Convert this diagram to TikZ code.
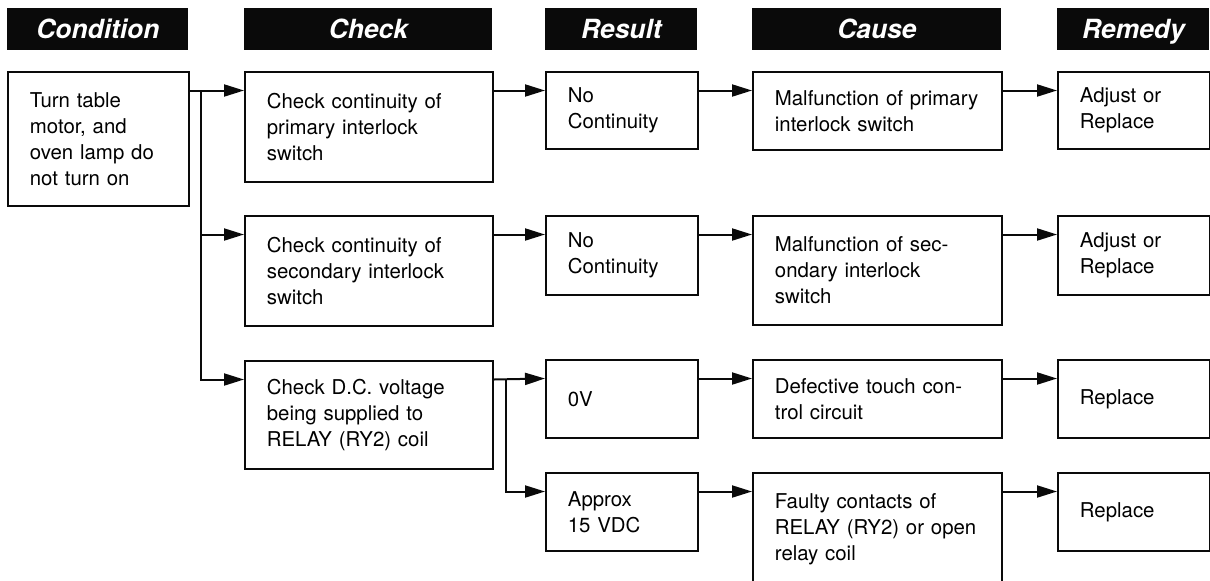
\documentclass[tikz,border=0pt]{standalone}
\usepackage{fontspec}
\setmainfont{TeX Gyre Heros}
\usetikzlibrary{arrows.meta}
\definecolor{inkblack}{RGB}{10,10,10}

\begin{document}
\begin{tikzpicture}[x=0.5pt, y=-0.5pt,
  head/.style={fill=inkblack, text=white, anchor=north west, inner sep=0pt, minimum height=21pt, text height=9.5pt, text depth=0pt, font=\fontsize{13.2}{15}\selectfont\bfseries\itshape},
  box/.style={draw=inkblack, line width=0.9pt, anchor=north west, align=left, inner xsep=11pt, inner ysep=0pt, font=\fontsize{10.2}{13}\selectfont},
  condbox/.style={box, text width=68.5pt},
  chkbox/.style={box, text width=102pt},
  resbox/.style={box, text width=54pt},
  caubox/.style={box, text width=102.5pt},
  rembox/.style={box, text width=54pt},
  conn/.style={-{Triangle[length=10pt,width=6pt]}, line width=1pt, inkblack}]
\useasboundingbox (0,0) rectangle (1210,580);
\foreach \name/\x/\w in {Condition/7/90.5, Check/244/124, Result/545/76, Cause/752/124.5, Remedy/1057/76}
  \node[head, minimum width=\w pt] (h\name) at (\x,8) {\name};
\node[condbox, minimum height=67pt] (cond) at (7,71) {Turn table\\motor, and\\oven lamp do\\not turn on};
\node[chkbox, minimum height=55pt] (chk1) at (244,71) {Check continuity of\\primary interlock\\switch};
\node[chkbox, minimum height=55pt] (chk2) at (244,215) {Check continuity of\\secondary interlock\\switch};
\node[chkbox, minimum height=54pt] (chk3) at (244,360) {Check D.C. voltage\\being supplied to\\RELAY (RY2) coil};
\node[resbox, minimum height=38.5pt] (res1) at (545,71) {No\\Continuity};
\node[resbox, minimum height=39.5pt] (res2) at (545,215) {No\\Continuity};
\node[resbox, minimum height=39pt] (res3) at (545,359) {0V};
\node[resbox, minimum height=39pt] (res4) at (545,472) {Approx\\15 VDC};
\node[caubox, minimum height=39pt] (cau1) at (752,71) {Malfunction of primary\\interlock switch};
\node[caubox, minimum height=54.5pt] (cau2) at (752,215) {Malfunction of sec-\\ondary interlock\\switch};
\node[caubox, minimum height=39pt] (cau3) at (752,359) {Defective touch con-\\trol circuit};
\node[caubox, minimum height=56pt] (cau4) at (752,472) {Faulty contacts of\\RELAY (RY2) or open\\relay coil};
\node[rembox, minimum height=38.5pt] (rem1) at (1057,71) {Adjust or\\Replace};
\node[rembox, minimum height=39.5pt] (rem2) at (1057,215) {Adjust or\\Replace};
\node[rembox, minimum height=39pt] (rem3) at (1057,359) {Replace};
\node[rembox, minimum height=39pt] (rem4) at (1057,472) {Replace};
\coordinate (jcond) at ([xshift=5.75pt,yshift=-9.75pt]cond.north east);
\coordinate (jchk) at ([xshift=6pt,yshift=-9.75pt]chk3.north east);
\draw[conn] ([yshift=-9.75pt]cond.north east) -- ([yshift=-9.75pt]chk1.north west);
\draw[conn] (jcond) |- ([yshift=-9.75pt]chk2.north west);
\draw[conn] (jcond) |- ([yshift=-9.75pt]chk3.north west);
\draw[conn] ([yshift=-9.75pt]chk3.north east) -- ([yshift=-9.75pt]res3.north west);
\draw[conn] (jchk) |- ([yshift=-9.75pt]res4.north west);
\foreach \i in {1,2}
  \draw[conn] ([yshift=-9.75pt]chk\i.north east) -- ([yshift=-9.75pt]res\i.north west);
\foreach \i in {1,...,4}{
  \draw[conn] ([yshift=-9.75pt]res\i.north east) -- ([yshift=-9.75pt]cau\i.north west);
  \draw[conn] ([yshift=-9.75pt]cau\i.north east) -- ([yshift=-9.75pt]rem\i.north west);
}
\end{tikzpicture}
\end{document}
